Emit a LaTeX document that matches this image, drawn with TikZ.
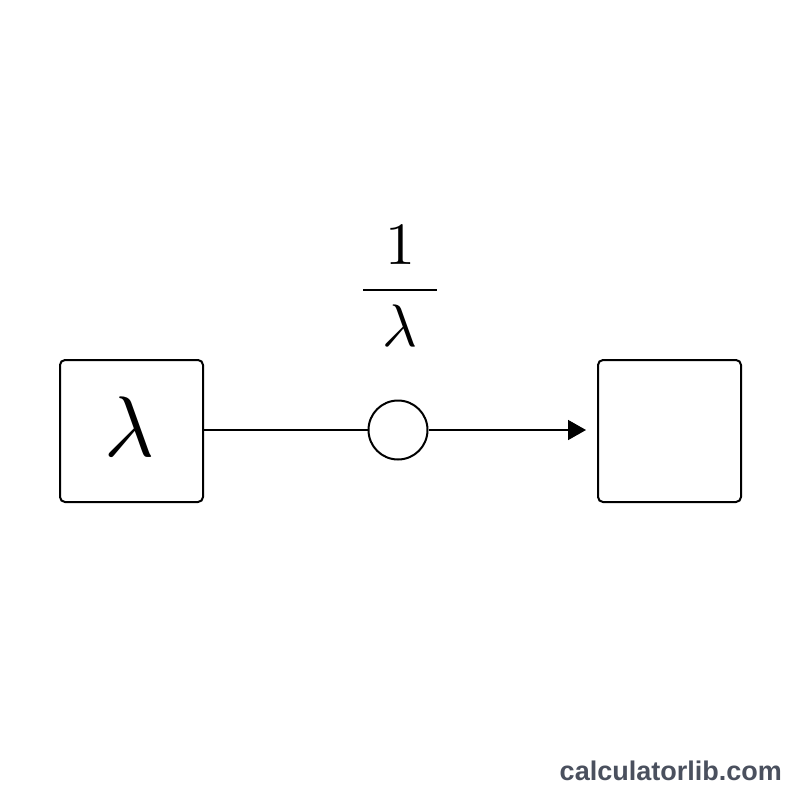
\documentclass[tikz,border=0pt]{standalone}
\usepackage{fontspec}
\usepackage{graphicx}
\newfontfamily\wmfont{Liberation Sans}
\usetikzlibrary{arrows.meta}
\definecolor{wmgray}{HTML}{4A505E}
\tikzset{
  boxnode/.style={draw, line width=2pt, rounded corners=5pt, minimum width=143pt, minimum height=142pt, inner sep=0pt},
  junction/.style={draw, circle, line width=2pt, minimum size=59pt, inner sep=0pt},
  conn/.style={line width=1.6pt},
}
\begin{document}
\begin{tikzpicture}[x=1pt,y=-1pt]
\useasboundingbox[fill=white] (0,0) rectangle (800,800);
\node[boxnode] (L) at (131.5,431) {};
\node (LL) at (130,427) {\scalebox{8.6}{$\lambda$}};
\node[boxnode] (R) at (669.5,431) {};
\node[junction] (C) at (398,430) {};
\node (F) at (400,286) {\scalebox{6}{$\displaystyle\frac{1}{\hspace{3.2pt}\lambda\hspace{3.2pt}}$}};
\draw[conn] (L.east |- C.west) -- (C.west);
\coordinate (T) at (586,430);
\draw[conn, -{Triangle[length=18pt,width=20pt]}] (C.east) -- (T);
\node[anchor=base east, text=wmgray, font=\wmfont\bfseries\fontsize{27}{30}\selectfont, inner sep=0pt] (W) at (782,780) {calculatorlib.com};
\end{tikzpicture}
\end{document}
